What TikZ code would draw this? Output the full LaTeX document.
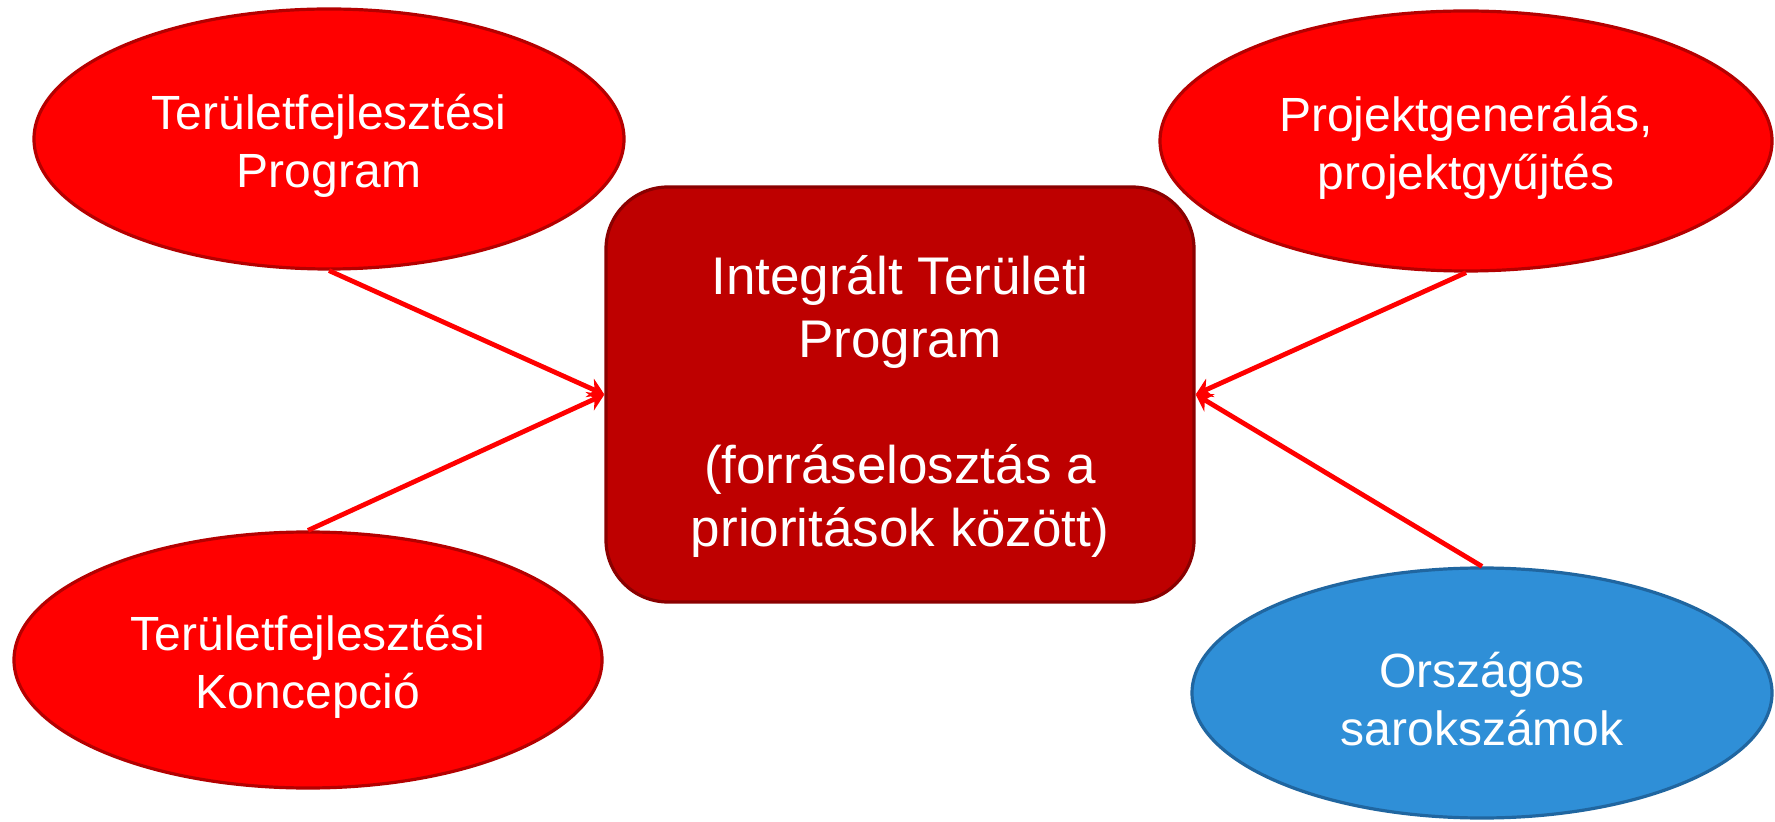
\documentclass[tikz,border=0pt]{standalone}
\usepackage{fontspec}
\setmainfont{Liberation Sans}
\usetikzlibrary{shapes.geometric,arrows.meta}
\definecolor{redfill}{HTML}{FF0000}
\definecolor{redline}{HTML}{B40000}
\definecolor{boxfill}{HTML}{BE0000}
\definecolor{boxline}{HTML}{8A0000}
\definecolor{bluefill}{HTML}{2F8FD7}
\definecolor{blueline}{HTML}{2066A0}
\newcommand{\topstrut}[1]{\rule{0pt}{#1}}
\begin{document}
\begin{tikzpicture}[x=0.5pt,y=-0.5pt,
  bubble/.style={ellipse, draw=redline, fill=redfill, line width=1.6pt, inner sep=0pt,
    text=white, align=center, font=\fontsize{24}{29}\selectfont},
  bluebubble/.style={bubble, draw=blueline, fill=bluefill},
  mainbox/.style={rectangle, rounded corners=31pt, draw=boxline, fill=boxfill, line width=1.6pt,
    text=white, align=center, font=\fontsize{26.5}{31.5}\selectfont,
    minimum width=294pt, minimum height=207.5pt},
  link/.style={draw=redfill, line width=2.4pt, -{Stealth[length=8pt,width=10pt]}}]
\useasboundingbox (0,0) rectangle (1775,822);
\node[mainbox] (itp) at (900,394.5) {\topstrut{31.5pt}Integrált Területi\\Program\\ \\(forráselosztás a\\prioritások között)};
\node[bubble, minimum width=295pt, minimum height=130pt] (tfp) at (329,139) {\topstrut{24pt}Területfejlesztési\\Program};
\node[bubble, minimum width=294pt, minimum height=128pt] (tfk) at (308,660) {\topstrut{24pt}Területfejlesztési\\Koncepció};
\node[bubble, minimum width=306pt, minimum height=130pt] (pg) at (1466,141) {\topstrut{24pt}Projektgenerálás,\\projektgyűjtés};
\node[bluebubble, minimum width=290pt, minimum height=125pt] (os) at (1482,693) {\topstrut{24pt}Országos\\sarokszámok};
\draw[link] (tfp.south) -- (itp.west);
\draw[link] (tfk.north) -- (itp.west);
\draw[link] (pg.south) -- (itp.east);
\draw[link] (os.north) -- (itp.east);
\end{tikzpicture}
\end{document}
